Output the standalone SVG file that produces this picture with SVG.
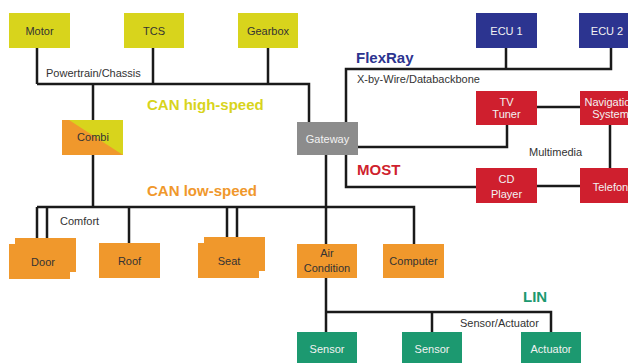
<svg xmlns="http://www.w3.org/2000/svg" width="628" height="363" viewBox="0 0 628 363">
<style>
text{font-family:"Liberation Sans","DejaVu Sans",sans-serif;}
.lbl{font-size:11px;fill:#333;text-anchor:middle;}
.wl{font-size:11px;fill:#f2f2f2;text-anchor:middle;}
.cap{font-size:11px;fill:#333;}
.bus{font-size:15px;font-weight:bold;}
.y{fill:#d8d41c;}
.o{fill:#f0982c;}
.b{fill:#2c3490;}
.r{fill:#cf1f2e;}
.g{fill:#1c9970;}
.gr{fill:#8c8c8c;}
#connectors path{fill:none;stroke:#1a1a1a;stroke-width:2.5;}
</style>
<rect width="628" height="363" fill="#ffffff"/>
<g id="connectors">
<path d="M37 48V84M153 48V84M268 48V84M37 84H309V122M93 84V120"/>
<path d="M93 155V207M37 207H414V244M326 155V244M37 207V244M47 207V238M129 207V243M227 207V243M237 207V237"/>
<path d="M346 122V69H611V47M506 48V69"/>
<path d="M507 125V147H358M346 155V187H476M537 107H580M537 186H580M610 125V168"/>
<path d="M326 278V332M326 312H551V332M432 312V332"/>
</g>
<g id="labels">
<text class="cap" x="46" y="77">Powertrain/Chassis</text>
<text class="bus" x="147" y="110" fill="#d8d41c">CAN high-speed</text>
<text class="bus" x="356" y="63" fill="#2c3490">FlexRay</text>
<text class="cap" x="357" y="83">X-by-Wire/Databackbone</text>
<text class="bus" x="357" y="175" fill="#cf1f2e">MOST</text>
<text class="cap" x="529" y="156">Multimedia</text>
<text class="bus" x="147" y="196" fill="#f0982c">CAN low-speed</text>
<text class="cap" x="60" y="225">Comfort</text>
<text class="bus" x="523" y="302" fill="#1c9970">LIN</text>
<text class="cap" x="460" y="327">Sensor/Actuator</text>
</g>
<g id="motor"><rect class="y" x="9" y="13" width="61" height="35"/><text class="lbl" x="39.5" y="34.5">Motor</text></g>
<g id="tcs"><rect class="y" x="124" y="13" width="60" height="35"/><text class="lbl" x="154" y="34.5">TCS</text></g>
<g id="gearbox"><rect class="y" x="238" y="13" width="60" height="35"/><text class="lbl" x="268" y="34.5">Gearbox</text></g>
<g id="combi"><rect class="y" x="62" y="120" width="61" height="35"/><polygon class="o" points="62,120 69,120 123,155 62,155"/><text class="lbl" x="93" y="141">Combi</text></g>
<g id="gateway"><rect class="gr" x="297" y="122" width="61" height="33"/><text class="wl" x="327.5" y="142.5">Gateway</text></g>
<g id="ecu1"><rect class="b" x="476" y="13" width="61" height="35"/><text class="wl" x="506.5" y="34.5">ECU 1</text></g>
<g id="ecu2"><rect class="b" x="579" y="13" width="61" height="35"/><text class="wl" x="607" y="34.5">ECU 2</text></g>
<g id="tvtuner"><rect class="r" x="476" y="91" width="61" height="34"/><text class="wl" x="506.5" y="106">TV</text><text class="wl" x="506.5" y="118">Tuner</text></g>
<g id="navigation"><rect class="r" x="580" y="91" width="61" height="34"/><text class="wl" x="610.5" y="106">Navigation</text><text class="wl" x="610.5" y="118">System</text></g>
<g id="cdplayer"><rect class="r" x="476" y="168" width="61" height="35"/><text class="wl" x="506.5" y="183">CD</text><text class="wl" x="506.5" y="198">Player</text></g>
<g id="telefon"><rect class="r" x="580" y="168" width="61" height="35"/><text class="wl" x="610.5" y="191">Telefon</text></g>
<g id="door"><rect class="o" x="15" y="238" width="61" height="34"/><rect class="o" x="9" y="244" width="61" height="35"/><text class="lbl" x="43" y="266">Door</text></g>
<g id="roof"><rect class="o" x="99" y="243" width="61" height="35"/><text class="lbl" x="129.5" y="265">Roof</text></g>
<g id="seat"><rect class="o" x="204" y="237" width="61" height="34"/><rect class="o" x="198" y="243" width="61" height="35"/><text class="lbl" x="229" y="265">Seat</text></g>
<g id="aircondition"><rect class="o" x="297" y="244" width="60" height="34"/><text class="lbl" x="327" y="257">Air</text><text class="lbl" x="327" y="272">Condition</text></g>
<g id="computer"><rect class="o" x="383" y="244" width="61" height="34"/><text class="lbl" x="413.5" y="265">Computer</text></g>
<g id="sensor1"><rect class="g" x="297" y="332" width="60" height="35"/><text class="wl" x="327" y="353">Sensor</text></g>
<g id="sensor2"><rect class="g" x="402" y="332" width="60" height="35"/><text class="wl" x="432" y="353">Sensor</text></g>
<g id="actuator"><rect class="g" x="521" y="332" width="60" height="35"/><text class="wl" x="551" y="353">Actuator</text></g>
</svg>
